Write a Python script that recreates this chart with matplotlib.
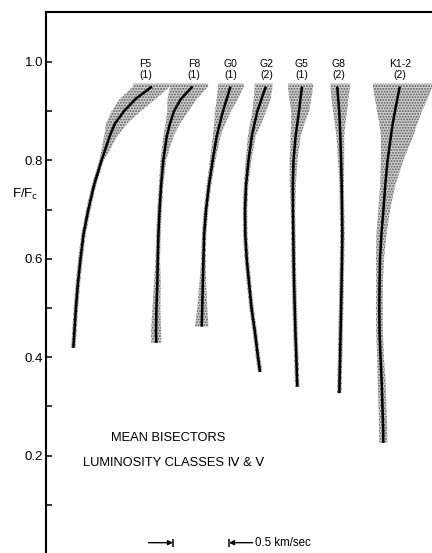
import matplotlib
matplotlib.use('Agg')
import matplotlib.pyplot as plt
import numpy as np

plt.rcParams['font.family'] = ['Liberation Sans', 'DejaVu Sans']
plt.rcParams['hatch.linewidth'] = 0.9

# residual flux levels (F/Fc) where the bisectors were read
levels = [0.95, 0.925, 0.90, 0.875, 0.85, 0.80, 0.75, 0.70, 0.65, 0.60,
          0.55, 0.50, 0.45, 0.40, 0.35, 0.30, 0.25]

spectral_types = ['F5', 'F8', 'G0', 'G2', 'G5', 'G8', 'K1-2']
n_stars = ['(1)', '(1)', '(1)', '(2)', '(1)', '(2)', '(2)']
label_x = [0.89, 1.32, 1.65, 1.97, 2.28, 2.61, 3.16]   # km/sec
f_bottom = [0.419, 0.429, 0.462, 0.370, 0.340, 0.327, 0.226]

# bisector position (km/sec, arbitrary zero per star); last value is at f_bottom
bis_f5 = [0.946, 0.800, 0.696, 0.616, 0.570, 0.496, 0.429, 0.378, 0.335, 0.308,
          0.285, 0.267, 0.253, 0.244]
bis_f8 = [1.308, 1.205, 1.143, 1.107, 1.079, 1.047, 1.028, 1.014, 1.004, 0.998,
          0.994, 0.986, 0.982, 0.985]
bis_g0 = [1.647, 1.614, 1.580, 1.552, 1.525, 1.488, 1.455, 1.429, 1.412, 1.406,
          1.400, 1.395, 1.390]
bis_g2 = [1.963, 1.925, 1.887, 1.862, 1.838, 1.808, 1.786, 1.777, 1.779, 1.792,
          1.813, 1.835, 1.866, 1.893, 1.911]
bis_g5 = [2.286, 2.272, 2.259, 2.244, 2.229, 2.210, 2.204, 2.205, 2.208, 2.211,
          2.215, 2.221, 2.227, 2.235, 2.242, 2.244]
bis_g8 = [2.600, 2.609, 2.618, 2.623, 2.628, 2.635, 2.640, 2.643, 2.646, 2.643,
          2.639, 2.635, 2.630, 2.626, 2.621, 2.619]
bis_k = [3.159, 3.137, 3.116, 3.096, 3.080, 3.050, 3.029, 3.013, 2.995, 2.982,
         2.978, 2.976, 2.978, 2.987, 2.997, 3.004, 3.011, 3.011]

# spread of the individual bisectors (km/sec to the blue / red side)
lo_f5 = [0.17, 0.14, 0.11, 0.08, 0.05, 0.02, 0.02, 0.02, 0.02, 0.02, 0.02, 0.02, 0.02, 0.02]
hi_f5 = [0.16, 0.18, 0.15, 0.11, 0.07, 0.02, 0.02, 0.02, 0.02, 0.02, 0.02, 0.02, 0.02, 0.02]
lo_f8 = [0.20, 0.12, 0.06, 0.04, 0.03, 0.025, 0.02, 0.02, 0.02, 0.02, 0.03, 0.035, 0.045, 0.045]
hi_f8 = [0.14, 0.14, 0.13, 0.09, 0.06, 0.025, 0.02, 0.02, 0.02, 0.02, 0.03, 0.035, 0.045, 0.045]
lo_g0 = [0.11, 0.09, 0.07, 0.05, 0.035, 0.025, 0.02, 0.02, 0.02, 0.02, 0.03, 0.045, 0.06]
hi_g0 = [0.12, 0.10, 0.07, 0.05, 0.035, 0.025, 0.02, 0.02, 0.02, 0.02, 0.03, 0.045, 0.06]
lo_g2 = [0.10, 0.07, 0.045, 0.04, 0.035, 0.025, 0.02, 0.02, 0.02, 0.02, 0.02, 0.02, 0.02, 0.02, 0.02]
hi_g2 = [0.06, 0.08, 0.08, 0.06, 0.035, 0.025, 0.02, 0.02, 0.02, 0.02, 0.02, 0.02, 0.02, 0.02, 0.02]
lo_g5 = [0.125, 0.10, 0.07, 0.055, 0.045, 0.035, 0.027, 0.02, 0.02, 0.02, 0.02, 0.02, 0.02, 0.02, 0.02, 0.02]
hi_g5 = [0.10, 0.095, 0.09, 0.065, 0.045, 0.035, 0.027, 0.02, 0.02, 0.02, 0.02, 0.02, 0.02, 0.02, 0.02, 0.02]
lo_g8 = [0.06, 0.06, 0.055, 0.045, 0.035, 0.027, 0.02, 0.02, 0.02, 0.02, 0.02, 0.02, 0.02, 0.02, 0.02, 0.02]
hi_g8 = [0.115, 0.09, 0.07, 0.05, 0.035, 0.027, 0.02, 0.02, 0.02, 0.02, 0.02, 0.02, 0.02, 0.02, 0.02, 0.02]
lo_k = [0.24, 0.20, 0.16, 0.12, 0.09, 0.06, 0.045, 0.045, 0.045, 0.036, 0.03, 0.03, 0.03, 0.03,
        0.035, 0.035, 0.036, 0.036]
hi_k = [0.29, 0.27, 0.24, 0.22, 0.20, 0.14, 0.09, 0.06, 0.045, 0.036, 0.03, 0.03, 0.03, 0.03,
        0.035, 0.035, 0.036, 0.036]

bisectors = [bis_f5, bis_f8, bis_g0, bis_g2, bis_g5, bis_g8, bis_k]
spread_lo = [lo_f5, lo_f8, lo_g0, lo_g2, lo_g5, lo_g8, lo_k]
spread_hi = [hi_f5, hi_f8, hi_g0, hi_g2, hi_g5, hi_g8, hi_k]

scale_kms = 0.5
scale_left = 1.134


def main():
    fig = plt.figure(figsize=(4.32, 5.53), dpi=100)
    ax = fig.add_axes([46 / 432, 0.0, 1 - 46 / 432, 541 / 553])

    for name, n, lx, fb, v, lo, hi in zip(spectral_types, n_stars, label_x, f_bottom,
                                          bisectors, spread_lo, spread_hi):
        v = np.array(v)
        f = np.array(levels[:len(v) - 1] + [fb])
        # band, extended a hair above the top point
        f_band = np.concatenate([[0.956], f])
        left = np.concatenate([[v[0] - lo[0]], v - np.array(lo)])
        right = np.concatenate([[v[0] + hi[0]], v + np.array(hi)])
        ax.fill_betweenx(f_band, left, right, facecolor='#cdcdcd', edgecolor='#5a5a5a',
                         hatch='......', linewidth=0, zorder=1)
        ax.plot(v, f, color='black', lw=1.8, solid_capstyle='butt', zorder=3)
        ax.text(lx, 0.985, name + '\n' + n, ha='center', va='center', fontsize=7.5,
                linespacing=1.2)

    ax.set_xlim(0, 386 / 112)
    ax.set_ylim(0.002, 1.1016)
    ax.set_yticks([0.2, 0.4, 0.6, 0.8, 1.0])
    ax.set_yticklabels(['0.2', '0.4', '0.6', '0.8', '1.0'])
    ax.set_yticks([0.1, 0.3, 0.5, 0.7, 0.9], minor=True)
    ax.tick_params(axis='y', which='both', direction='in', length=4, width=1.1,
                   labelsize=9.5, pad=2)
    ax.tick_params(axis='x', which='both', bottom=False, labelbottom=False)
    for s in ['right', 'bottom']:
        ax.spines[s].set_visible(False)
    for s in ['left', 'top']:
        ax.spines[s].set_linewidth(1.5)

    ax.text(-21 / 386, 0.73, r'F/F$_{\rm c}$', transform=ax.get_yaxis_transform(),
            ha='center', va='center', fontsize=9.5)

    ax.text(1.09, 0.235, 'MEAN BISECTORS', ha='center', va='center', fontsize=9.3)
    ax.text(1.14, 0.185, 'LUMINOSITY CLASSES \u2163 & \u2164', ha='center', va='center',
            fontsize=9.3)

    # velocity scale bar
    yb = 0.023
    right_bar = scale_left + scale_kms
    ax.annotate('', xy=(scale_left, yb), xytext=(scale_left - 0.22, yb),
                arrowprops=dict(arrowstyle='-|>', color='black', lw=1, mutation_scale=7,
                                shrinkA=0, shrinkB=0))
    ax.annotate('', xy=(right_bar, yb), xytext=(right_bar + 0.21, yb),
                arrowprops=dict(arrowstyle='-|>', color='black', lw=1, mutation_scale=7,
                                shrinkA=0, shrinkB=0))
    ax.vlines([scale_left, right_bar], yb - 0.008, yb + 0.008, color='black', lw=1.1)
    ax.text(right_bar + 0.23, yb, '%.1f km/sec' % scale_kms, ha='left', va='center',
            fontsize=8.3)

    plt.savefig('out.png', dpi=100)


if __name__ == '__main__':
    main()
